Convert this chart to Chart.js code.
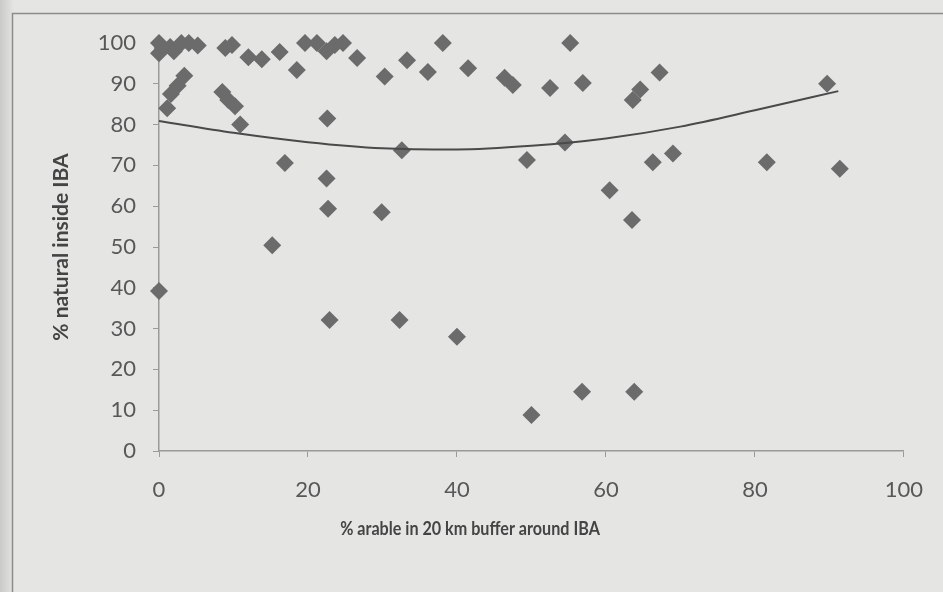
<!DOCTYPE html>
<html>
<head>
<meta charset="utf-8">
<script src="https://cdn.jsdelivr.net/npm/chart.js@4.4.0/dist/chart.umd.min.js"></script>
<style>
  html, body { margin: 0; padding: 0; background: #e5e5e3; }
  #wrap { position: relative; width: 943px; height: 592px; }
</style>
</head>
<body>
<div id="wrap"><canvas id="chart" width="943" height="592"></canvas></div>
<script>
// % arable land within the 20 km buffer (x) vs % natural habitat inside the IBA (y)
const arable = [
  0, 0, 0.5, 1.5, 2, 3, 4, 5.2,
  1.1, 1.6, 2.5, 3.4,
  8.9, 9.8, 8.5, 9.3, 10.2, 10.9,
  12, 13.8, 16.2, 18.5, 19.6, 21.2, 22.5, 23.6, 24.7, 26.6,
  30.3, 33.3, 36.1, 38.1, 41.5, 46.4, 47.5, 52.5, 55.2, 56.9,
  63.6, 64.6, 67.2, 89.7,
  22.6, 32.6, 54.5, 49.4, 66.3, 69, 81.6, 91.4,
  16.9, 22.5, 22.7, 29.9, 60.5, 63.5, 15.2, 0,
  22.9, 32.3, 40, 56.8, 63.8, 50
];
const natural = [
  100, 97.5, 98.8, 99, 98, 100, 100, 99.4,
  84, 87.5, 89.5, 92,
  98.8, 99.5, 88, 86, 84.5, 80,
  96.5, 96, 97.8, 93.4, 100, 100, 98, 99.5, 100, 96.3,
  91.8, 95.8, 92.9, 100, 93.8, 91.5, 89.7, 89, 100, 90.2,
  86, 88.6, 92.8, 90,
  81.5, 73.7, 75.6, 71.3, 70.8, 72.9, 70.8, 69.2,
  70.6, 66.8, 59.4, 58.5, 63.9, 56.6, 50.4, 39.2,
  32.1, 32.1, 28, 14.5, 14.5, 8.8
];

const trendX = [0, 10, 20, 30, 40, 50, 60, 70, 80, 91.2];
const trendY = [80.9, 78, 75.7, 74.2, 73.9, 74.8, 76.6, 79.5, 83.5, 88.2];

const xTitle = '% arable in 20 km buffer around IBA';
const yTitle = '% natural inside IBA';

const points = arable.map((x, i) => ({ x: x, y: natural[i] }));
const trend = trendX.map((x, i) => ({ x: x, y: trendY[i] }));

// background + outer frame of the chart box
const framePlugin = {
  id: 'frame',
  beforeDraw(chart) {
    const ctx = chart.ctx;
    ctx.save();
    ctx.fillStyle = '#e5e5e3';
    ctx.fillRect(0, 0, chart.width, chart.height);
    const g = ctx.createLinearGradient(0, 0, 14, 0);
    g.addColorStop(0, 'rgba(150,150,150,0.35)');
    g.addColorStop(1, 'rgba(150,150,150,0)');
    ctx.fillStyle = g;
    ctx.fillRect(0, 0, 14, chart.height);
    ctx.strokeStyle = '#8c8c8c';
    ctx.lineWidth = 1.5;
    ctx.beginPath();
    ctx.moveTo(12.5, chart.height);
    ctx.lineTo(12.5, 13.5);
    ctx.lineTo(chart.width, 13.5);
    ctx.stroke();
    ctx.restore();
  },
  // the x axis title sits left of the plot centre, so it is drawn by hand
  // (slightly condensed, narrower letters)
  afterDraw(chart) {
    const ctx = chart.ctx;
    ctx.save();
    ctx.translate(470, 529);
    ctx.scale(0.85, 1);
    ctx.fillStyle = '#444';
    ctx.font = 'bold 19px Lato';
    ctx.textAlign = 'center';
    ctx.textBaseline = 'middle';
    ctx.fillText(xTitle, 0, 0);
    ctx.restore();
  }
};

const tickFont = { family: 'Lato', size: 22 };

new Chart(document.getElementById('chart'), {
  type: 'scatter',
  data: {
    datasets: [
      {
        label: 'IBA',
        data: points,
        pointStyle: 'rectRot',
        pointRadius: 9,
        pointHoverRadius: 9,
        backgroundColor: '#6b6b6b',
        borderColor: '#6b6b6b',
        borderWidth: 0,
        clip: false,
        order: 2
      },
      {
        type: 'line',
        label: 'trend',
        data: trend,
        showLine: true,
        borderColor: '#4a4a4a',
        borderWidth: 2,
        pointRadius: 0,
        tension: 0.4,
        cubicInterpolationMode: 'monotone',
        fill: false,
        clip: false,
        order: 1
      }
    ]
  },
  options: {
    responsive: false,
    animation: false,
    events: [],
    layout: { padding: { left: 0, right: 39, top: 43, bottom: 0 } },
    plugins: {
      legend: { display: false },
      tooltip: { enabled: false }
    },
    scales: {
      x: {
        type: 'linear',
        min: 0,
        max: 100,
        afterFit: (axis) => { axis.height = 141; },
        ticks: { stepSize: 20, color: '#585858', font: tickFont, padding: 20 },
        grid: { drawOnChartArea: false, tickLength: 6, color: '#9a9a9a' },
        border: { color: '#9a9a9a', width: 1.5 },
        title: { display: false, text: xTitle }
      },
      y: {
        min: 0,
        max: 100,
        afterFit: (axis) => { axis.width = 159; },
        ticks: { stepSize: 10, color: '#585858', font: tickFont, padding: 17 },
        grid: { drawOnChartArea: false, tickLength: 6, color: '#9a9a9a' },
        border: { color: '#9a9a9a', width: 1.5 },
        title: {
          display: true,
          text: yTitle,
          color: '#444',
          font: { family: 'Lato', size: 21, weight: 'bold' },
          padding: { top: 49, bottom: 0 }
        }
      }
    }
  },
  plugins: [framePlugin]
});
</script>
</body>
</html>
